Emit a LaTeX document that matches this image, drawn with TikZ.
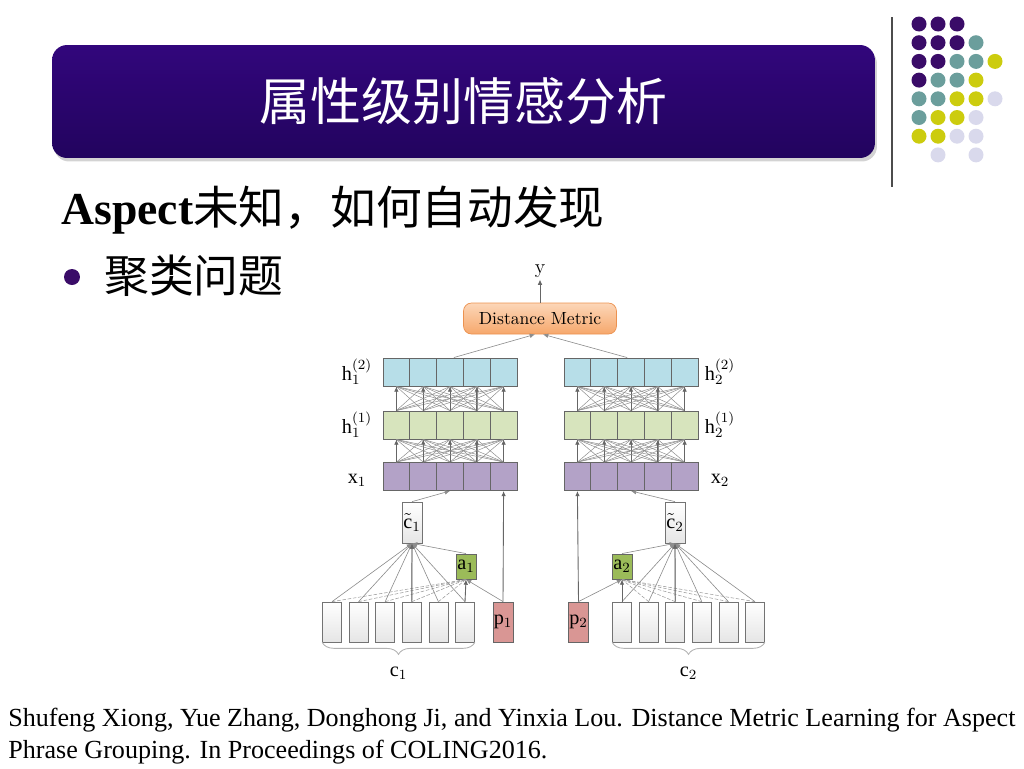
\documentclass[tikz,border=0pt]{standalone}
\usepackage{fontspec}
\setmainfont{Liberation Serif}
\newfontfamily\cjk{Noto Sans CJK SC}
\usetikzlibrary{arrows.meta,shadows,decorations.pathreplacing}

\definecolor{barTop}{RGB}{50,6,124}
\definecolor{barBot}{RGB}{34,4,94}
\definecolor{dotP}{RGB}{58,12,104}
\definecolor{dotT}{RGB}{107,158,156}
\definecolor{dotY}{RGB}{204,204,14}
\definecolor{dotL}{RGB}{217,217,236}
\definecolor{hBlue}{RGB}{183,222,232}
\definecolor{hGreen}{RGB}{215,228,189}
\definecolor{xPurple}{RGB}{179,162,199}
\definecolor{pPink}{RGB}{217,150,148}
\definecolor{aGreen}{RGB}{155,187,89}
\definecolor{dmTop}{RGB}{252,214,184}
\definecolor{dmBot}{RGB}{246,168,108}
\definecolor{dmLine}{RGB}{236,146,80}

\tikzset{
  diag/.style={font=\fontfamily{lmr}\selectfont\fontsize{10}{12}\selectfont},
  lbl/.style={font=\fontfamily{lmr}\selectfont\fontsize{11.5}{13}\selectfont},
  cell/.style={draw=black!60, line width=0.5pt, inner sep=0pt,
    minimum width=0.536cm, minimum height=0.56cm},
  wordbox/.style={draw=black!55, line width=0.4pt, inner sep=0pt,
    top color=white, bottom color=black!10,
    minimum width=0.38cm, minimum height=0.8cm},
  mesh/.style={draw=black!45, line width=0.28pt},
  vert/.style={draw=black!60, line width=0.5pt, -{Latex[length=3pt,width=2.6pt]}},
  feed/.style={draw=black!45, line width=0.35pt, -{Latex[length=3pt,width=2.6pt]}},
  feeddash/.style={draw=black!40, line width=0.3pt, dashed, dash pattern=on 2pt off 1pt},
  brace/.style={draw=black!30, line width=0.5pt,
    decorate, decoration={brace, amplitude=0.24cm, mirror}}
}

\begin{document}
\begin{tikzpicture}[x=0.02cm, y=-0.02cm]
\useasboundingbox (0,0) rectangle (1024,768);

% title bar
\node[rounded corners=0.3cm, top color=barTop, bottom color=barBot,
  minimum width=16.46cm, minimum height=2.26cm,
  drop shadow={shadow xshift=0.04cm, shadow yshift=-0.07cm, opacity=0.35},
  text=white, font=\cjk\fontsize{29}{32}\selectfont] (title) at (463.5,101.5) {属性级别情感分析};

% dots and rule
\draw[black!70, line width=0.6pt] (892,17) -- (892,187);
\foreach \c/\r/\col in {0/0/dotP,1/0/dotP,2/0/dotP,
  0/1/dotP,1/1/dotP,2/1/dotP,3/1/dotT,
  0/2/dotP,1/2/dotP,2/2/dotT,3/2/dotT,4/2/dotY,
  0/3/dotP,1/3/dotT,2/3/dotT,3/3/dotY,
  0/4/dotT,1/4/dotT,2/4/dotY,3/4/dotY,4/4/dotL,
  0/5/dotT,1/5/dotY,2/5/dotY,3/5/dotL,
  0/6/dotY,1/6/dotY,2/6/dotL,3/6/dotL,
  1/7/dotL,3/7/dotL}
  \fill[\col] ({919+19*\c},{24+18.7*\r}) circle (0.15cm);

% text lines
\node[anchor=west, inner sep=0pt, font=\fontsize{26}{30}\selectfont] (ask) at (61,210)
  {\textbf{Aspect}{\cjk 未知，如何自动发现}};
\fill[dotP] (72,277) circle (0.16cm);
\node[anchor=west, inner sep=0pt, font=\cjk\fontsize{25.5}{30}\selectfont] (item) at (104,276) {聚类问题};

\node[anchor=west, inner sep=0pt, font=\fontsize{14.85}{17}\selectfont] (ref1) at (8,720)
  {Shufeng Xiong, Yue Zhang, Donghong Ji, and Yinxia Lou. Distance Metric Learning for Aspect};
\node[anchor=west, inner sep=0pt, font=\fontsize{14.85}{17}\selectfont] (ref2) at (8,752)
  {Phrase Grouping. In Proceedings of COLING2016.};

% network
\node[diag, rounded corners=0.16cm, draw=dmLine, top color=dmTop, bottom color=dmBot,
  minimum width=3.06cm, minimum height=0.62cm, inner sep=0pt] (dm) at (540,318.5) {Distance Metric};
\node[lbl, inner sep=1pt] (y) at (540,271) {y};
\draw[vert] (dm.north) -- (y.south);

\foreach \s/\l in {1/383,2/564}{
  \foreach \i in {1,...,5}{
    \node[cell, fill=hBlue] (h2-\s-\i) at ({\l+26.8*\i-13.4},372) {};
    \node[cell, fill=hGreen] (h1-\s-\i) at ({\l+26.8*\i-13.4},425) {};
    \node[cell, fill=xPurple] (x-\s-\i) at ({\l+26.8*\i-13.4},476.5) {};
  }
}
\foreach \s in {1,2}{
  \foreach \i in {1,...,5}{
    \foreach \j in {1,...,5}{
      \draw[mesh] (x-\s-\i.north) -- (h1-\s-\j.south);
      \draw[mesh] (h1-\s-\i.north) -- (h2-\s-\j.south);
    }
    \draw[vert] (x-\s-\i.north) -- (h1-\s-\i.south);
    \draw[vert] (h1-\s-\i.north) -- (h2-\s-\i.south);
  }
}
\draw[feed] ([xshift=-0.2cm]h2-1-3.north east) -- ([xshift=-0.1cm]dm.south);
\draw[feed] ([xshift=0.2cm]h2-2-3.north west) -- ([xshift=0.06cm]dm.south);

% layer labels
\node[lbl] (lh21) at (357,372) {$\mathrm{h}_1^{(2)}$};
\node[lbl] (lh11) at (357,425) {$\mathrm{h}_1^{(1)}$};
\node[lbl] (lx1) at (357,480) {$\mathrm{x}_1$};
\node[lbl] (lh22) at (720,372) {$\mathrm{h}_2^{(2)}$};
\node[lbl] (lh12) at (720,425) {$\mathrm{h}_2^{(1)}$};
\node[lbl] (lx2) at (720,480) {$\mathrm{x}_2$};

% context words
\foreach \k in {1,...,6}{
  \node[wordbox] (w1-\k) at ({332+26.6*(\k-1)},622) {};
  \node[wordbox] (w2-\k) at ({622+26.6*(\k-1)},622) {};
}
\node[lbl, wordbox, minimum width=0.4cm, minimum height=0.82cm] (ct1) at (412,522.5) {$\tilde{\mathrm{c}}_1$};
\node[lbl, wordbox, minimum width=0.4cm, minimum height=0.82cm] (ct2) at (675,522.5) {$\tilde{\mathrm{c}}_2$};
\node[lbl, cell, fill=aGreen, minimum width=0.4cm, minimum height=0.5cm] (a1) at (466,566.5) {$\mathrm{a}_1$};
\node[lbl, cell, fill=aGreen, minimum width=0.4cm, minimum height=0.5cm] (a2) at (622,566.5) {$\mathrm{a}_2$};
\node[lbl, cell, fill=pPink, minimum width=0.4cm, minimum height=0.8cm] (p1) at (503,622) {$\mathrm{p}_1$};
\node[lbl, cell, fill=pPink, minimum width=0.4cm, minimum height=0.8cm] (p2) at (578.5,622) {$\mathrm{p}_2$};

\foreach \k in {1,...,6}{
  \draw[feeddash] (w1-\k.north) -- (a1.south);
  \draw[feeddash] (w2-\k.north) -- (a2.south);
  \draw[feed] (w1-\k.north) -- (ct1.south);
  \draw[feed] (w2-\k.north) -- (ct2.south);
}
\draw[vert] (w1-4.north) -- (ct1.south);
\draw[vert] (w2-3.north) -- (ct2.south);
\draw[vert] (w1-6.north) -- (a1.south);
\draw[vert] (w2-1.north) -- (a2.south);
\draw[feed] (p1.north) -- (a1.south);
\draw[feed] (p2.north) -- (a2.south);
\draw[feed] (a1.north) -- (ct1.south);
\draw[feed] (a2.north) -- (ct2.south);
\draw[vert] (p1.north) -- (x-1-5.south);
\draw[vert] (p2.north) -- (x-2-1.south);
\draw[feed] (ct1.north) -- (x-1-3.south);
\draw[feed] (ct2.north) -- (x-2-3.south);

% braces
\draw[brace] (w1-1.south west) -- (w1-6.south east) node[lbl, midway, below=0.36cm] (c1) {$\mathrm{c}_1$};
\draw[brace] (w2-1.south west) -- (w2-6.south east) node[lbl, midway, below=0.36cm] (c2) {$\mathrm{c}_2$};

\end{tikzpicture}
\end{document}
